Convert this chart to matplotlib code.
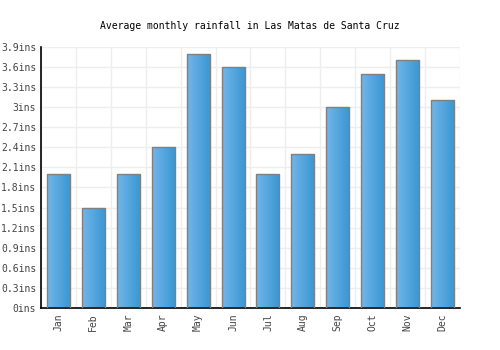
import numpy as np
import matplotlib.pyplot as plt
from matplotlib.colors import LinearSegmentedColormap

months = ['Jan', 'Feb', 'Mar', 'Apr', 'May', 'Jun', 'Jul', 'Aug', 'Sep', 'Oct', 'Nov', 'Dec']
rain = [2.0, 1.5, 2.0, 2.4, 3.8, 3.6, 2.0, 2.3, 3.0, 3.5, 3.7, 3.1]
yticks = [0, 0.3, 0.6, 0.9, 1.2, 1.5, 1.8, 2.1, 2.4, 2.7, 3.0, 3.3, 3.6, 3.9]

plt.rcParams['font.family'] = 'DejaVu Sans Mono'
plt.rcParams['font.size'] = 7

fig = plt.figure(figsize=(5, 3.5), dpi=100)
ax = fig.add_axes([0.082, 0.12, 0.838, 0.746])

cmap = LinearSegmentedColormap.from_list('bar', ['#72b6ea', '#3996d2'])
grad = np.linspace(0, 1, 64).reshape(1, -1)

x = np.arange(len(months))
bars = ax.bar(x, rain, width=0.66, facecolor='none', edgecolor='#808080', linewidth=1, zorder=3)
for b in bars:
    im = ax.imshow(grad, cmap=cmap, aspect='auto', zorder=2,
                   extent=[b.get_x(), b.get_x() + b.get_width(), 0, b.get_height()])
    im.set_clip_path(b)

ax.set_xlim(-0.5, len(months) - 0.5)
ax.set_ylim(0, 3.9)
ax.set_xticks(x)
ax.set_xticklabels(months, rotation=90, color='#444444')
ax.set_yticks(yticks)
ax.set_yticklabels([f'{v:g}ins' for v in yticks], color='#444444')
ax.set_xticks(np.arange(len(months) + 1) - 0.5, minor=True)
ax.tick_params(which='both', length=0)
ax.tick_params(axis='x', pad=4)
ax.grid(True, axis='y', color='#eeeeee', linewidth=1, zorder=0)
ax.grid(True, axis='x', which='minor', color='#eeeeee', linewidth=1, zorder=0)
ax.set_axisbelow(True)
for s in ['top', 'right']:
    ax.spines[s].set_visible(False)
ax.spines['left'].set_linewidth(1.2)
ax.spines['bottom'].set_linewidth(1.2)

fig.suptitle('Average monthly rainfall in Las Matas de Santa Cruz', y=0.94, fontsize=7)
fig.savefig('out.png')
